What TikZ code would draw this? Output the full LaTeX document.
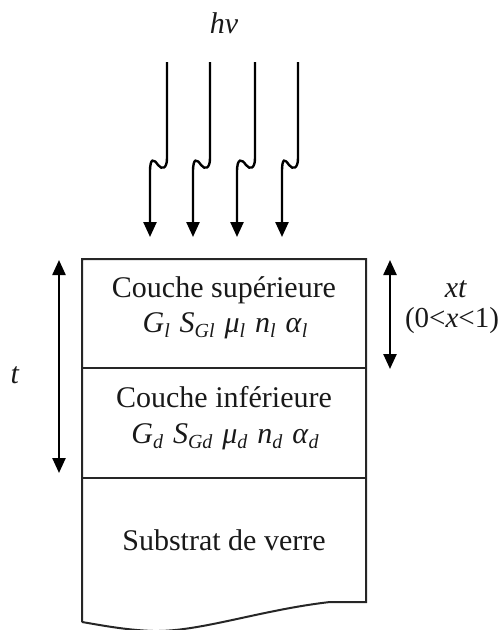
\documentclass[tikz,border=0pt]{standalone}
\usepackage{fontspec}
\setmainfont{Liberation Serif}
\usetikzlibrary{arrows.meta}
\newcommand{\sbs}[1]{\raisebox{-0.18em}{\fontsize{20}{21}\selectfont\itshape #1}}
\newcommand{\vr}[2]{\textit{#1}\sbs{#2}}
\tikzset{
  lbl/.style={anchor=base, inner sep=0pt, font=\fontsize{30}{34}\selectfont, text=black!90},
  wave/.style={line width=2.4pt, -{Triangle[width=13pt,length=15pt]}},
  dim/.style={line width=2.4pt, {Triangle[width=13pt,length=15pt]}-{Triangle[width=13pt,length=15pt]}},
  edge/.style={line width=2pt, draw=black!85}
}
\begin{document}
\begin{tikzpicture}[x=1pt,y=-1pt]
\useasboundingbox (0,0) rectangle (502,630);
% box
\coordinate (tl) at (82,259);
\coordinate (tr) at (366,259);
\coordinate (br) at (366,602);
\coordinate (bl) at (82,622);
\draw[edge] (bl) -- (tl) -- (tr) -- (br) -- (330,602) .. controls (260,610) and (200,632) .. (153,631) .. controls (125,630) and (100,625) .. (bl);
\draw[edge] (82,368) -- (366,368);
\draw[edge] (82,478) -- (366,478);
% texts
\node[lbl] (hv) at (224,33) {\textit{hv}};
\node[lbl] (cs) at (224,297) {Couche supérieure};
\node[lbl] (ps) at (225,332) {\vr{G}{l}\hspace{0.33em}\vr{S}{Gl}\hspace{0.33em}\vr{μ}{l}\hspace{0.33em}\vr{n}{l}\hspace{0.33em}\vr{α}{l}};
\node[lbl] (ci) at (224,407) {Couche inférieure};
\node[lbl] (pi) at (225,443) {\vr{G}{d}\hspace{0.33em}\vr{S}{Gd}\hspace{0.33em}\vr{μ}{d}\hspace{0.33em}\vr{n}{d}\hspace{0.33em}\vr{α}{d}};
\node[lbl] (sv) at (224,550) {Substrat de verre};
\node[lbl] (t) at (15,383) {\textit{t}};
\node[lbl] (xt) at (456,297) {\textit{xt}};
\node[lbl, font=\fontsize{29}{33}\selectfont] (xr) at (452,327) {(0<\textit{x}<1)};
% dimension arrows
\coordinate (ta) at (59,260);
\coordinate (tb) at (59,473);
\draw[dim] (ta) -- (tb);
\coordinate (xa) at (390,260);
\coordinate (xb) at (390,369);
\draw[dim] (xa) -- (xb);
% photon arrows
\foreach \i/\xs/\xe in {1/167/150, 2/210/193, 3/255/237, 4/298/282} {
  \coordinate (s\i) at (\xs,62);
  \coordinate (e\i) at (\xe,237);
  \draw[wave] (s\i) -- (\xs,158) .. controls (\xs,169) and (\xs-5,170) .. (\xs-9,165)
     .. controls (\xs-13,159) and (\xe,157) .. (\xe,172) -- (e\i);
}
\end{tikzpicture}
\end{document}
